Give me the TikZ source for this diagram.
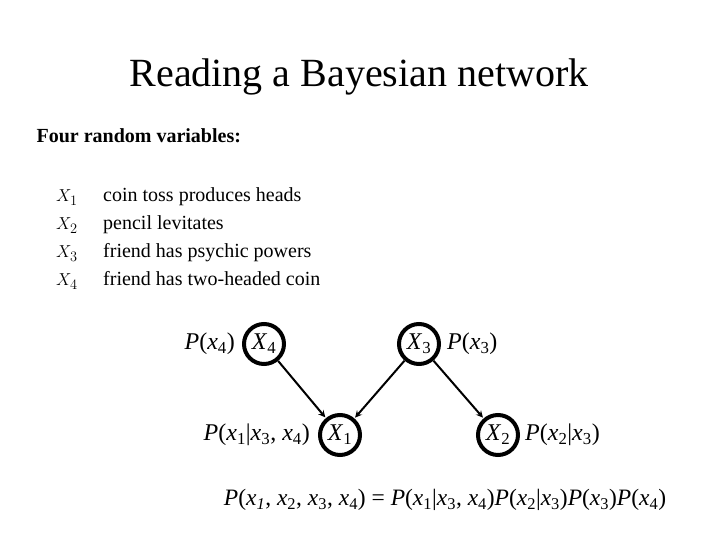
\documentclass[tikz,border=0pt]{standalone}
\usepackage{fontspec}
\setmainfont{Liberation Serif}
\usetikzlibrary{arrows}
\usetikzlibrary{positioning}
\newcommand\vx[2]{\textit{#1}\textsubscript{#2}}
\newcommand\gsize{\fontsize{24}{28}\selectfont}
\tikzstyle{rv}=[circle,draw=black,line width=4pt,minimum size=40pt,inner sep=0,font=\gsize]
\tikzstyle{dep}=[->,>=stealth,line width=2pt,shorten >=1pt]
\tikzstyle{cpt}=[font=\gsize,inner sep=2pt]

\begin{document}
\begin{tikzpicture}[x=1pt,y=1pt]
\useasboundingbox (0,0) rectangle (720,540);
\node (title) at (359,463) {\fontsize{40}{48}\selectfont Reading a Bayesian network};
\node (heading) at (33,404)[anchor=west] {\fontsize{20}{24}\selectfont\textbf{Four random variables:}};
\foreach \i/\y/\txt in {1/338/coin toss produces heads,2/310/pencil levitates,
  3/282/friend has psychic powers,4/254/friend has two-headed coin}
{
\node (var\i) at (56,\y)[anchor=base west,inner sep=0] {\fontsize{19}{22}\selectfont $X_{\i}$};
\node (desc\i) at (103,\y)[anchor=base west,inner sep=0] {\fontsize{20}{24}\selectfont \txt};
}
\node[rv] (x4) at (264,196) {\vx{X}{4}};
\node[rv] (x3) at (419,196) {\vx{X}{3}};
\node[rv] (x1) at (340,105) {\vx{X}{1}};
\node[rv] (x2) at (498,105) {\vx{X}{2}};
\node[cpt,left=5pt of x4] (p4) {\textit{P}(\vx{x}{4})};
\node[cpt,right=4pt of x3] (p3) {\textit{P}(\vx{x}{3})};
\node[cpt,left=6pt of x1] (p1) {\textit{P}(\vx{x}{1}|\vx{x}{3}, \vx{x}{4})};
\node[cpt,right=3pt of x2] (p2) {\textit{P}(\vx{x}{2}|\vx{x}{3})};
\draw[dep] (x4) -- (x1);
\draw[dep] (x3) -- (x1);
\draw[dep] (x3) -- (x2);
\node (joint) at (445,40) {\fontsize{23.5}{28}\selectfont \textit{P}(\vx{x}{\textit{1}}, \vx{x}{2}, \vx{x}{3}, \vx{x}{4}) = \textit{P}(\vx{x}{1}|\vx{x}{3}, \vx{x}{4})\textit{P}(\vx{x}{2}|\vx{x}{3})\textit{P}(\vx{x}{3})\textit{P}(\vx{x}{4})};
\end{tikzpicture}
\end{document}
